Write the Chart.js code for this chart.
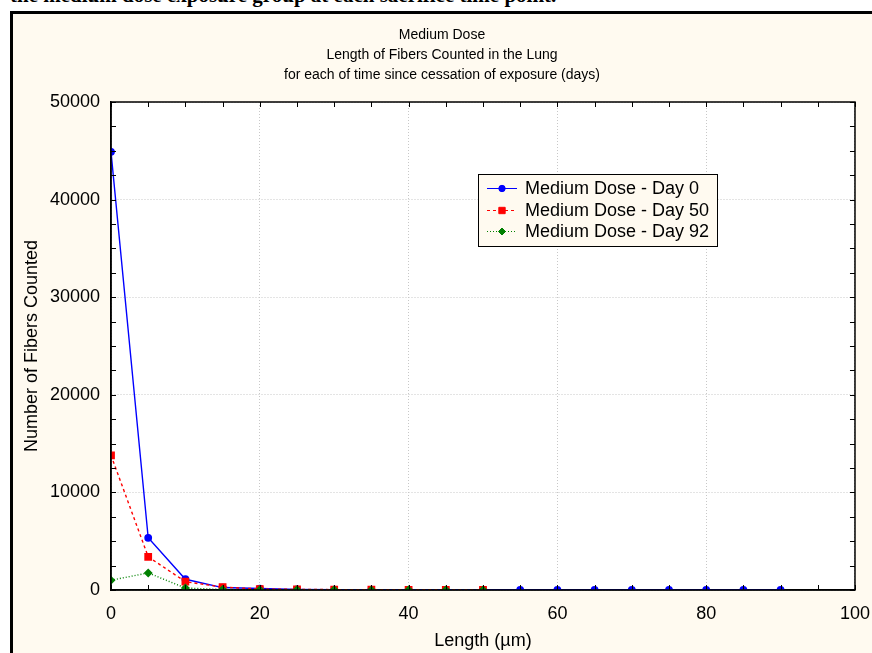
<!DOCTYPE html>
<html>
<head>
<meta charset="utf-8">
<script src="https://cdn.jsdelivr.net/npm/chart.js@4.4.0/dist/chart.umd.min.js"></script>
<style>
    body { margin: 0; background: #ffffff; overflow: hidden; }
    #caption {
        position: absolute; left: 10px; top: -15px; margin: 0;
        font: bold 21px/21px "Liberation Serif", "Times New Roman", serif;
        white-space: nowrap;
    }
    #frame {
        position: absolute; left: 10px; top: 11px;
        width: 890px; height: 660px;
        border: 3px solid #000; background: #fffaf0;
    }
    #frame canvas { position: absolute; left: 0; top: 0; }
</style>
</head>
<body>
<p id="caption">the medium dose exposure group at each sacrifice time point.</p>
<div id="frame"><canvas id="fiberChart" width="870" height="660"></canvas></div>
<script>
// Length bins (µm)
const lengthsDay0 = [0, 5, 10, 15, 20, 25, 30, 35, 40, 45, 50, 55, 60, 65, 70, 75, 80, 85, 90];
const lengthsLater = [0, 5, 10, 15, 20, 25, 30, 35, 40, 45, 50];

// Number of fibers counted
const countsDay0 = [44900, 5350, 1100, 250, 150, 60, 40, 30, 20, 20, 10, 10, 10, 5, 5, 5, 5, 5, 5];
const countsDay50 = [13800, 3400, 850, 300, 100, 60, 40, 30, 20, 20, 10];
const countsDay92 = [1000, 1750, 200, 50, 30, 20, 15, 10, 10, 10, 5];

const seriesNames = ['Medium Dose - Day 0', 'Medium Dose - Day 50', 'Medium Dose - Day 92'];
const titleLines = ['Medium Dose', 'Length of Fibers Counted in the Lung', 'for each of time since cessation of exposure (days)'];

const xMinorStep = 5;
const yMinorStep = 2500;

function toPoints(xs, ys) {
    return xs.map((x, i) => ({ x: x, y: ys[i] }));
}

// white plot area, box round it and inward tick marks on all four sides
const plotFrame = {
    id: 'plotFrame',
    afterLayout(chart) {
        // title is centred on the whole frame, not the padded area
        if (chart.titleBlock) chart.titleBlock.right += 3;
    },
    beforeDraw(chart) {
        const a = chart.chartArea, ctx = chart.ctx;
        ctx.save();
        ctx.fillStyle = '#ffffff';
        ctx.fillRect(a.left, a.top, a.right - a.left, a.bottom - a.top);
        ctx.restore();
    },
    afterDraw(chart) {
        const a = chart.chartArea, ctx = chart.ctx;
        const xs = chart.scales.x, ys = chart.scales.y;
        ctx.save();
        ctx.strokeStyle = '#000';
        ctx.lineWidth = 1;
        ctx.beginPath();
        for (let v = xs.min; v <= xs.max; v += xMinorStep) {
            const px = Math.round(xs.getPixelForValue(v)) + 0.5;
            ctx.moveTo(px, a.bottom); ctx.lineTo(px, a.bottom - 5);
            ctx.moveTo(px, a.top); ctx.lineTo(px, a.top + 5);
        }
        for (let v = ys.min; v <= ys.max; v += yMinorStep) {
            const py = Math.round(ys.getPixelForValue(v)) + 0.5;
            ctx.moveTo(a.left, py); ctx.lineTo(a.left + 5, py);
            ctx.moveTo(a.right, py); ctx.lineTo(a.right - 5, py);
        }
        ctx.stroke();
        ctx.lineWidth = 1.5;
        ctx.strokeRect(a.left, a.top, a.right - a.left, a.bottom - a.top);
        ctx.restore();
    }
};

// legend box inside the plot area
const boxLegend = {
    id: 'boxLegend',
    afterDraw(chart) {
        const a = chart.chartArea, ctx = chart.ctx;
        const bx = a.left + 367, by = a.top + 72, bw = 239, bh = 72;
        ctx.save();
        ctx.fillStyle = '#fffaf0';
        ctx.fillRect(bx, by, bw, bh);
        ctx.strokeStyle = '#000';
        ctx.lineWidth = 1;
        ctx.strokeRect(bx + 0.5, by + 0.5, bw, bh);
        const rows = [14, 36, 57];
        chart.data.datasets.forEach((ds, i) => {
            const y = by + rows[i];
            ctx.strokeStyle = ds.borderColor;
            ctx.setLineDash(ds.borderDash || []);
            ctx.beginPath();
            ctx.moveTo(bx + 9, y + 0.5);
            ctx.lineTo(bx + 39, y + 0.5);
            ctx.stroke();
            ctx.setLineDash([]);
            ctx.fillStyle = ds.pointBackgroundColor;
            ctx.strokeStyle = ds.pointBorderColor;
            Chart.helpers.drawPoint(ctx, {
                pointStyle: ds.pointStyle, radius: ds.pointRadius, rotation: 0, borderWidth: 1
            }, bx + 24, y + 0.5);
            ctx.fillStyle = '#000';
            ctx.font = '18px "Liberation Sans", Arial, sans-serif';
            ctx.textBaseline = 'middle';
            ctx.textAlign = 'left';
            ctx.fillText(ds.label, bx + 47, y + 1);
        });
        ctx.restore();
    }
};

const tickFont = { family: '"Liberation Sans", Arial, sans-serif', size: 18 };

new Chart(document.getElementById('fiberChart'), {
    type: 'scatter',
    data: {
        datasets: [
            {
                label: seriesNames[0],
                data: toPoints(lengthsDay0, countsDay0),
                showLine: true,
                borderColor: '#0000ff',
                borderWidth: 1.4,
                pointStyle: 'circle',
                pointRadius: 3.2,
                pointBackgroundColor: '#0000ff',
                pointBorderColor: '#0000ff',
                order: 3
            },
            {
                label: seriesNames[1],
                data: toPoints(lengthsLater, countsDay50),
                showLine: true,
                borderColor: '#ff0000',
                borderWidth: 1.4,
                borderDash: [3, 3],
                pointStyle: 'rect',
                pointRadius: 4.5,
                pointBackgroundColor: '#ff0000',
                pointBorderColor: '#ff0000',
                order: 2
            },
            {
                label: seriesNames[2],
                data: toPoints(lengthsLater, countsDay92),
                showLine: true,
                borderColor: '#008000',
                borderWidth: 1.4,
                borderDash: [1, 2],
                pointStyle: 'rectRot',
                pointRadius: 3.5,
                pointBackgroundColor: '#008000',
                pointBorderColor: '#008000',
                order: 1
            }
        ]
    },
    options: {
        responsive: false,
        animation: false,
        layout: { padding: { left: 0, right: 15, top: 0, bottom: 20 } },
        plugins: {
            legend: { display: false },
            tooltip: { enabled: false },
            title: {
                display: true,
                text: titleLines,
                color: '#000',
                font: { family: '"Liberation Sans", Arial, sans-serif', size: 14, weight: 'normal', lineHeight: 1.4286 },
                padding: { top: 11, bottom: 17 }
            }
        },
        scales: {
            x: {
                type: 'linear',
                min: 0,
                max: 100,
                ticks: { stepSize: 20, color: '#000', font: tickFont, padding: 13, maxRotation: 0 },
                grid: { color: '#c8c8c8', drawTicks: false },
                border: { display: true, color: '#000', width: 1.5, dash: [1, 2] },
                title: { display: true, text: 'Length (µm)', color: '#000', font: tickFont, padding: { top: 0, bottom: 2 } },
                afterFit(scale) { scale.height = 64; }
            },
            y: {
                min: 0,
                max: 50000,
                ticks: {
                    stepSize: 10000, color: '#000', font: tickFont, padding: 11,
                    callback: (v) => String(v)
                },
                grid: { color: '#c8c8c8', drawTicks: false },
                border: { display: true, color: '#000', width: 1.5, dash: [1, 2] },
                title: { display: true, text: 'Number of Fibers Counted', color: '#000', font: tickFont, padding: { top: 8, bottom: 0 } },
                afterFit(scale) { scale.width = 98; }
            }
        }
    },
    plugins: [plotFrame, boxLegend]
});
</script>
</body>
</html>
